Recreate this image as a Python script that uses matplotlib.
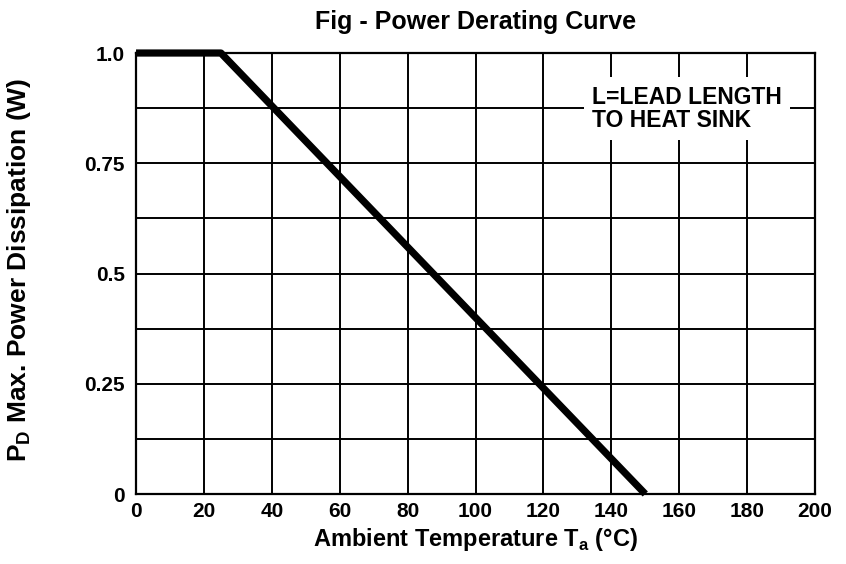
import matplotlib
matplotlib.use('Agg')
import matplotlib.pyplot as plt
import numpy as np

plt.rcParams['font.family'] = ['Liberation Sans', 'DejaVu Sans']
plt.rcParams['mathtext.fontset'] = 'custom'
plt.rcParams['mathtext.rm'] = 'Liberation Sans:bold'
plt.rcParams['mathtext.bf'] = 'Liberation Sans:bold'

# derating curve points (ambient temp, power)
temp = [0, 25, 150]
power = [1.0, 1.0, 0.0]

x_ticks = [0, 20, 40, 60, 80, 100, 120, 140, 160, 180, 200]
y_ticks = [0, 0.25, 0.5, 0.75, 1.0]
y_tick_labels = ['0', '0.25', '0.5', '0.75', '1.0']

fig = plt.figure(figsize=(8.46, 5.64), dpi=100)
ax = fig.add_axes([0.1608, 0.1241, 0.8026, 0.7819])

ax.set_xlim(0, 200)
ax.set_ylim(0, 1.0)
ax.set_xticks(x_ticks)
ax.set_yticks(y_ticks)
ax.set_yticklabels(y_tick_labels)
ax.set_yticks(np.arange(0, 1.01, 0.125), minor=True)
ax.grid(True, which='both', color='black', linewidth=1.4)
ax.tick_params(which='both', length=0, labelsize=15)
ax.tick_params(axis='x', pad=6)
ax.tick_params(axis='y', pad=8)
for lab in ax.get_xticklabels() + ax.get_yticklabels():
    lab.set_fontweight('bold')
for s in ax.spines.values():
    s.set_linewidth(1.6)

ax.plot(temp, power, color='black', linewidth=5.2, solid_capstyle='butt', clip_on=False, zorder=3)

ax.text(0.672, 0.874, 'L=LEAD LENGTH\nTO HEAT SINK', transform=ax.transAxes,
        ha='left', va='center', multialignment='left', fontsize=16.5, fontweight='bold',
        linespacing=1.0,
        bbox=dict(facecolor='white', edgecolor='none', pad=6), zorder=4)

ax.set_title('Fig - Power Derating Curve', fontsize=18, fontweight='bold', pad=17)
ax.set_xlabel(r'Ambient Temperature T$_\mathbf{a}$ (°C)', fontsize=17, fontweight='bold', labelpad=3)
ax.set_ylabel(r'P$_\mathbf{D}$ Max. Power Dissipation (W)', fontsize=19, fontweight='bold')
ax.yaxis.set_label_coords(-0.152, 0.508)

fig.savefig('out.png', dpi=100)
